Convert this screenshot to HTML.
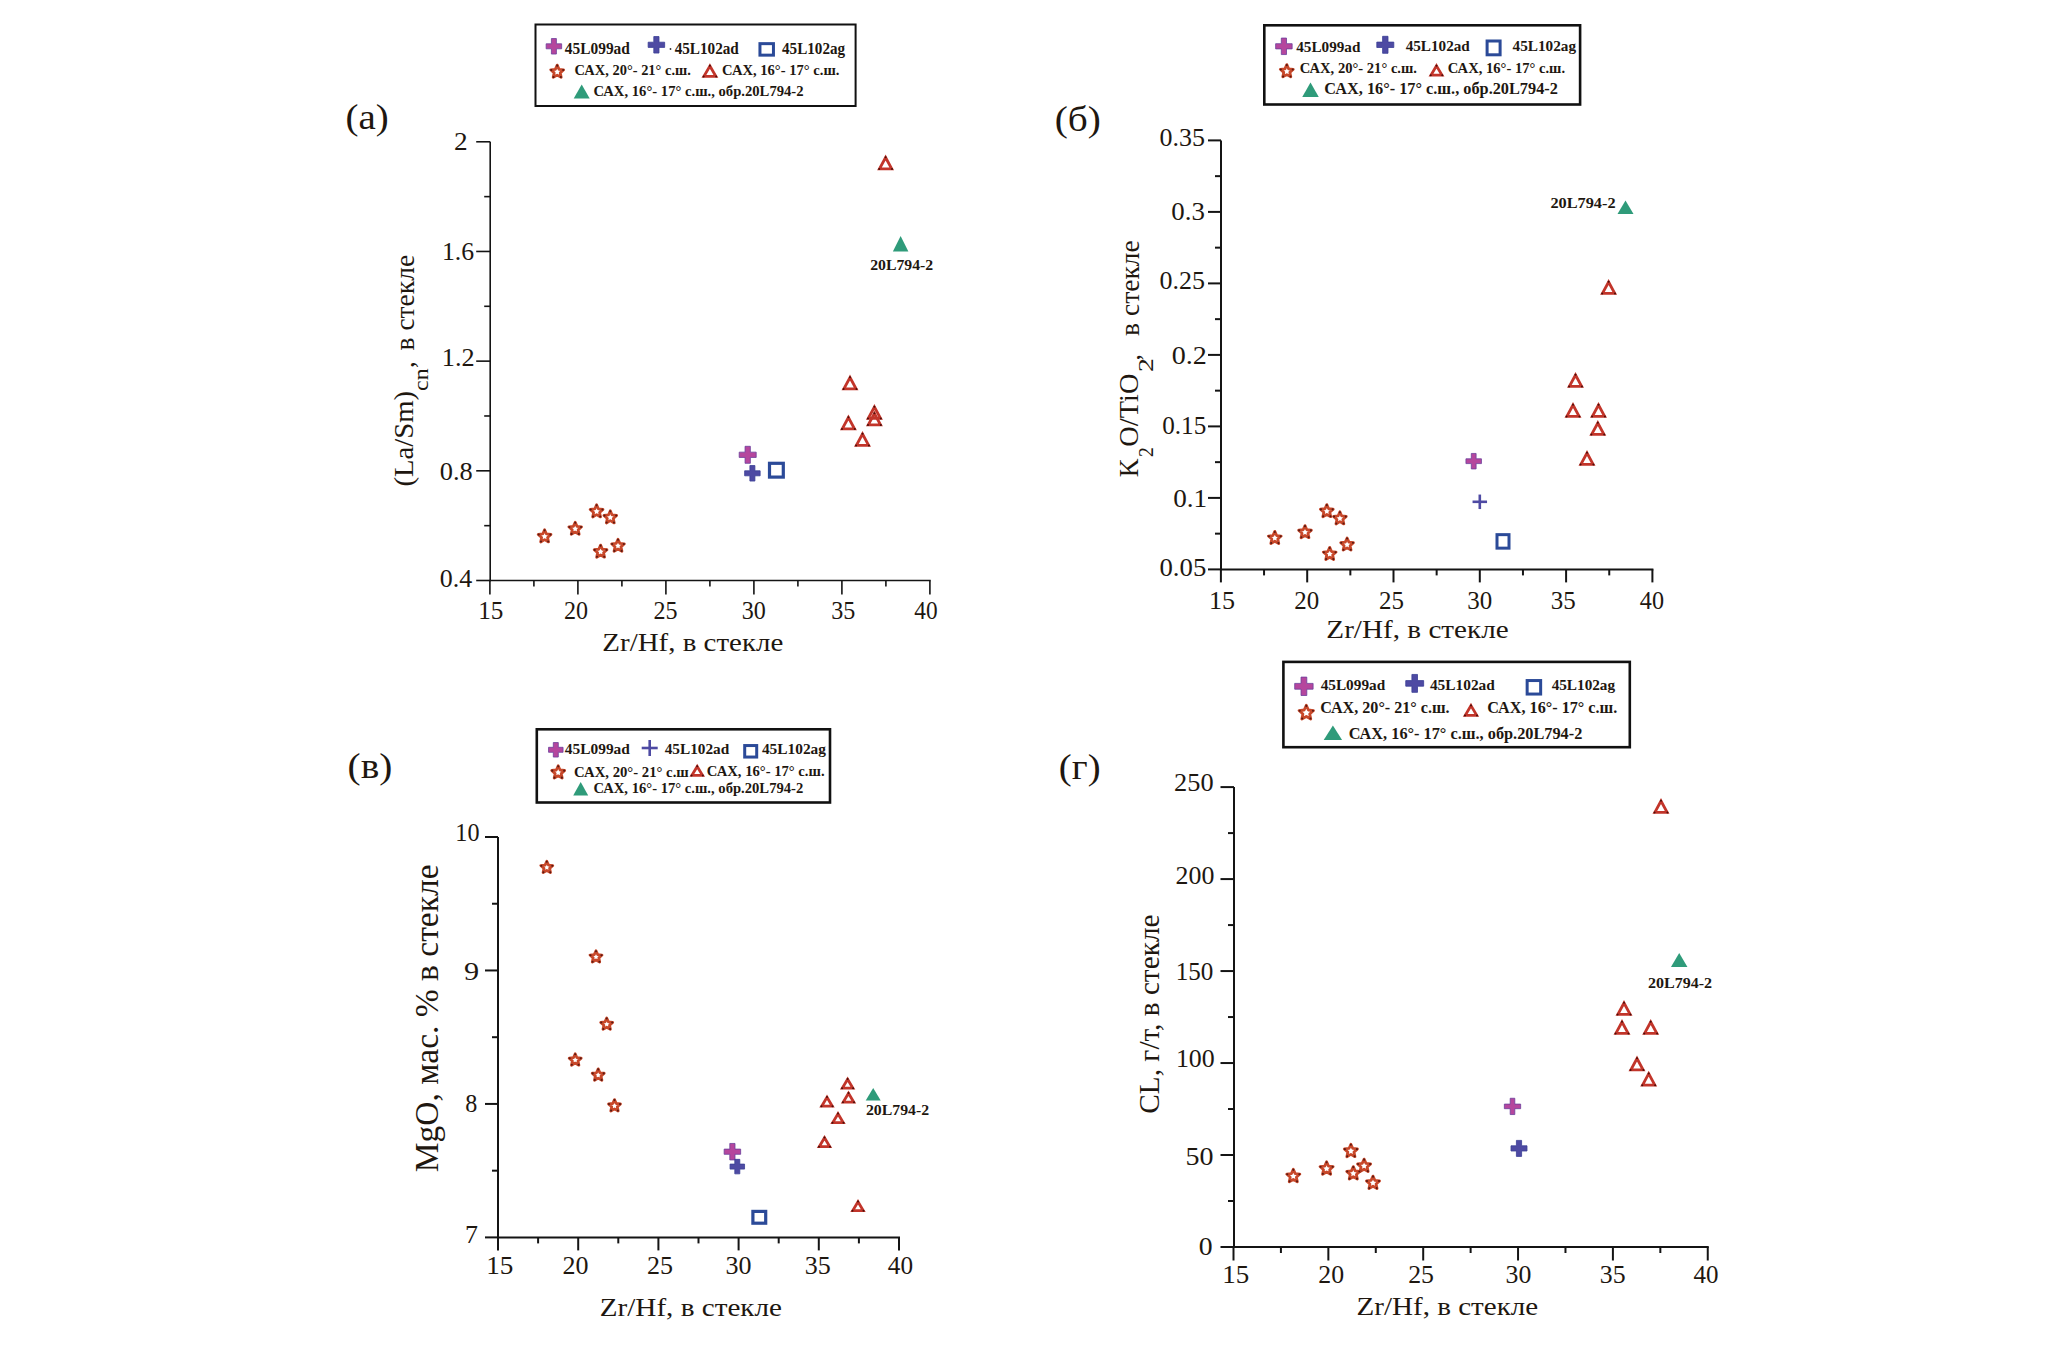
<!DOCTYPE html>
<html><head><meta charset="utf-8"><title>Zr/Hf diagrams</title>
<style>html,body{margin:0;padding:0;background:#fff;}svg{display:block;}</style></head>
<body><svg width="2067" height="1351" viewBox="0 0 2067 1351">
<rect width="2067" height="1351" fill="#fff"/>
<line x1="490.2" y1="141.78" x2="490.2" y2="581.3" stroke="#141414" stroke-width="1.6"/>
<line x1="489.4" y1="580.5" x2="930.7" y2="580.5" stroke="#141414" stroke-width="1.6"/>
<line x1="489.9" y1="580.5" x2="489.9" y2="594.5" stroke="#141414" stroke-width="1.6"/>
<line x1="577.9" y1="580.5" x2="577.9" y2="594.5" stroke="#141414" stroke-width="1.6"/>
<line x1="665.9" y1="580.5" x2="665.9" y2="594.5" stroke="#141414" stroke-width="1.6"/>
<line x1="753.9" y1="580.5" x2="753.9" y2="594.5" stroke="#141414" stroke-width="1.6"/>
<line x1="841.9" y1="580.5" x2="841.9" y2="594.5" stroke="#141414" stroke-width="1.6"/>
<line x1="929.9" y1="580.5" x2="929.9" y2="594.5" stroke="#141414" stroke-width="1.6"/>
<line x1="533.9" y1="580.5" x2="533.9" y2="586.5" stroke="#141414" stroke-width="1.6"/>
<line x1="621.9" y1="580.5" x2="621.9" y2="586.5" stroke="#141414" stroke-width="1.6"/>
<line x1="709.9" y1="580.5" x2="709.9" y2="586.5" stroke="#141414" stroke-width="1.6"/>
<line x1="797.9" y1="580.5" x2="797.9" y2="586.5" stroke="#141414" stroke-width="1.6"/>
<line x1="885.9" y1="580.5" x2="885.9" y2="586.5" stroke="#141414" stroke-width="1.6"/>
<line x1="476.2" y1="580.5" x2="490.2" y2="580.5" stroke="#141414" stroke-width="1.6"/>
<line x1="476.2" y1="470.82" x2="490.2" y2="470.82" stroke="#141414" stroke-width="1.6"/>
<line x1="476.2" y1="361.14" x2="490.2" y2="361.14" stroke="#141414" stroke-width="1.6"/>
<line x1="476.2" y1="251.46" x2="490.2" y2="251.46" stroke="#141414" stroke-width="1.6"/>
<line x1="476.2" y1="141.78" x2="490.2" y2="141.78" stroke="#141414" stroke-width="1.6"/>
<line x1="484.2" y1="525.66" x2="490.2" y2="525.66" stroke="#141414" stroke-width="1.6"/>
<line x1="484.2" y1="415.98" x2="490.2" y2="415.98" stroke="#141414" stroke-width="1.6"/>
<line x1="484.2" y1="306.3" x2="490.2" y2="306.3" stroke="#141414" stroke-width="1.6"/>
<line x1="484.2" y1="196.62" x2="490.2" y2="196.62" stroke="#141414" stroke-width="1.6"/>
<rect x="535.5" y="24.5" width="320.1" height="81.5" fill="none" stroke="#111" stroke-width="2"/>
<path d="M551.4 38.55 L556.4 38.55 L556.4 43.8 L561.65 43.8 L561.65 48.8 L556.4 48.8 L556.4 54.05 L551.4 54.05 L551.4 48.8 L546.15 48.8 L546.15 43.8 L551.4 43.8Z" fill="#b5469d" stroke="#6b3f9c" stroke-width="0.8"/>
<path d="M653.8 36.55 L659 36.55 L659 42.2 L664.65 42.2 L664.65 47.4 L659 47.4 L659 53.05 L653.8 53.05 L653.8 47.4 L648.15 47.4 L648.15 42.2 L653.8 42.2Z" fill="#4e4aa3" stroke="#3a3f95" stroke-width="0.8"/>
<rect x="759.95" y="43.65" width="13.5" height="11.5" fill="none" stroke="#2b4a98" stroke-width="3"/>
<path d="M557.2 65.1 L559.08 69.31 L563.67 69.8 L560.24 72.89 L561.2 77.4 L557.2 75.1 L553.2 77.4 L554.16 72.89 L550.73 69.8 L555.32 69.31Z" fill="none" stroke="#c8482a" stroke-width="2.8" stroke-linejoin="round"/>
<circle cx="557.2" cy="65.64" r="1.05" fill="#5a1a12"/>
<circle cx="563.15" cy="69.97" r="1.05" fill="#5a1a12"/>
<circle cx="560.88" cy="76.96" r="1.05" fill="#5a1a12"/>
<circle cx="553.52" cy="76.96" r="1.05" fill="#5a1a12"/>
<circle cx="551.25" cy="69.97" r="1.05" fill="#5a1a12"/>
<path d="M709.9 66.05 L715.88 76.35 L703.92 76.35Z" fill="none" stroke="#c2352a" stroke-width="2.8" stroke-linejoin="miter"/>
<circle cx="709.9" cy="65.85" r="1" fill="#4a0e0a"/>
<circle cx="716.18" cy="76.55" r="1" fill="#4a0e0a"/>
<circle cx="703.62" cy="76.55" r="1" fill="#4a0e0a"/>
<path d="M581.7 84.5 L589.7 98.5 L573.7 98.5Z" fill="#2f9b7a"/>
<circle cx="670.5" cy="49" r="0.9" fill="#333"/>
<path d="M544.6 529.8 L546.45 533.95 L550.97 534.43 L547.59 537.47 L548.54 541.92 L544.6 539.65 L540.66 541.92 L541.61 537.47 L538.23 534.43 L542.75 533.95Z" fill="none" stroke="#c8482a" stroke-width="2.8" stroke-linejoin="round"/>
<circle cx="544.6" cy="530.34" r="1.05" fill="#5a1a12"/>
<circle cx="550.46" cy="534.6" r="1.05" fill="#5a1a12"/>
<circle cx="548.22" cy="541.49" r="1.05" fill="#5a1a12"/>
<circle cx="540.98" cy="541.49" r="1.05" fill="#5a1a12"/>
<circle cx="538.74" cy="534.6" r="1.05" fill="#5a1a12"/>
<path d="M575.2 522.2 L577.05 526.35 L581.57 526.83 L578.19 529.87 L579.14 534.32 L575.2 532.05 L571.26 534.32 L572.21 529.87 L568.83 526.83 L573.35 526.35Z" fill="none" stroke="#c8482a" stroke-width="2.8" stroke-linejoin="round"/>
<circle cx="575.2" cy="522.74" r="1.05" fill="#5a1a12"/>
<circle cx="581.06" cy="527" r="1.05" fill="#5a1a12"/>
<circle cx="578.82" cy="533.89" r="1.05" fill="#5a1a12"/>
<circle cx="571.58" cy="533.89" r="1.05" fill="#5a1a12"/>
<circle cx="569.34" cy="527" r="1.05" fill="#5a1a12"/>
<path d="M596.6 504.8 L598.45 508.95 L602.97 509.43 L599.59 512.47 L600.54 516.92 L596.6 514.65 L592.66 516.92 L593.61 512.47 L590.23 509.43 L594.75 508.95Z" fill="none" stroke="#c8482a" stroke-width="2.8" stroke-linejoin="round"/>
<circle cx="596.6" cy="505.34" r="1.05" fill="#5a1a12"/>
<circle cx="602.46" cy="509.6" r="1.05" fill="#5a1a12"/>
<circle cx="600.22" cy="516.49" r="1.05" fill="#5a1a12"/>
<circle cx="592.98" cy="516.49" r="1.05" fill="#5a1a12"/>
<circle cx="590.74" cy="509.6" r="1.05" fill="#5a1a12"/>
<path d="M610.3 510.8 L612.15 514.95 L616.67 515.43 L613.29 518.47 L614.24 522.92 L610.3 520.65 L606.36 522.92 L607.31 518.47 L603.93 515.43 L608.45 514.95Z" fill="none" stroke="#c8482a" stroke-width="2.8" stroke-linejoin="round"/>
<circle cx="610.3" cy="511.34" r="1.05" fill="#5a1a12"/>
<circle cx="616.16" cy="515.6" r="1.05" fill="#5a1a12"/>
<circle cx="613.92" cy="522.49" r="1.05" fill="#5a1a12"/>
<circle cx="606.68" cy="522.49" r="1.05" fill="#5a1a12"/>
<circle cx="604.44" cy="515.6" r="1.05" fill="#5a1a12"/>
<path d="M600.6 545.1 L602.45 549.25 L606.97 549.73 L603.59 552.77 L604.54 557.22 L600.6 554.95 L596.66 557.22 L597.61 552.77 L594.23 549.73 L598.75 549.25Z" fill="none" stroke="#c8482a" stroke-width="2.8" stroke-linejoin="round"/>
<circle cx="600.6" cy="545.64" r="1.05" fill="#5a1a12"/>
<circle cx="606.46" cy="549.9" r="1.05" fill="#5a1a12"/>
<circle cx="604.22" cy="556.79" r="1.05" fill="#5a1a12"/>
<circle cx="596.98" cy="556.79" r="1.05" fill="#5a1a12"/>
<circle cx="594.74" cy="549.9" r="1.05" fill="#5a1a12"/>
<path d="M618 539.2 L619.85 543.35 L624.37 543.83 L620.99 546.87 L621.94 551.32 L618 549.05 L614.06 551.32 L615.01 546.87 L611.63 543.83 L616.15 543.35Z" fill="none" stroke="#c8482a" stroke-width="2.8" stroke-linejoin="round"/>
<circle cx="618" cy="539.74" r="1.05" fill="#5a1a12"/>
<circle cx="623.86" cy="544" r="1.05" fill="#5a1a12"/>
<circle cx="621.62" cy="550.89" r="1.05" fill="#5a1a12"/>
<circle cx="614.38" cy="550.89" r="1.05" fill="#5a1a12"/>
<circle cx="612.14" cy="544" r="1.05" fill="#5a1a12"/>
<path d="M745.05 446.3 L750.35 446.3 L750.35 452.15 L756.2 452.15 L756.2 457.45 L750.35 457.45 L750.35 463.3 L745.05 463.3 L745.05 457.45 L739.2 457.45 L739.2 452.15 L745.05 452.15Z" fill="#b5469d" stroke="#6b3f9c" stroke-width="0.8"/>
<path d="M749.9 465.55 L754.9 465.55 L754.9 470.8 L760.15 470.8 L760.15 475.8 L754.9 475.8 L754.9 481.05 L749.9 481.05 L749.9 475.8 L744.65 475.8 L744.65 470.8 L749.9 470.8Z" fill="#4e4aa3" stroke="#3a3f95" stroke-width="0.8"/>
<rect x="769.5" y="463.3" width="13.8" height="13.8" fill="none" stroke="#2b4a98" stroke-width="3.2"/>
<path d="M885.6 157.5 L891.73 168.9 L879.47 168.9Z" fill="none" stroke="#c2352a" stroke-width="2.8" stroke-linejoin="miter"/>
<circle cx="885.6" cy="157.3" r="1" fill="#4a0e0a"/>
<circle cx="892.03" cy="169.1" r="1" fill="#4a0e0a"/>
<circle cx="879.17" cy="169.1" r="1" fill="#4a0e0a"/>
<path d="M850 377.5 L856.13 388.9 L843.87 388.9Z" fill="none" stroke="#c2352a" stroke-width="2.8" stroke-linejoin="miter"/>
<circle cx="850" cy="377.3" r="1" fill="#4a0e0a"/>
<circle cx="856.43" cy="389.1" r="1" fill="#4a0e0a"/>
<circle cx="843.57" cy="389.1" r="1" fill="#4a0e0a"/>
<path d="M848.4 417.5 L854.53 428.9 L842.27 428.9Z" fill="none" stroke="#c2352a" stroke-width="2.8" stroke-linejoin="miter"/>
<circle cx="848.4" cy="417.3" r="1" fill="#4a0e0a"/>
<circle cx="854.83" cy="429.1" r="1" fill="#4a0e0a"/>
<circle cx="841.97" cy="429.1" r="1" fill="#4a0e0a"/>
<path d="M874.4 407 L880.53 418.4 L868.27 418.4Z" fill="none" stroke="#c2352a" stroke-width="2.8" stroke-linejoin="miter"/>
<circle cx="874.4" cy="406.8" r="1" fill="#4a0e0a"/>
<circle cx="880.83" cy="418.6" r="1" fill="#4a0e0a"/>
<circle cx="867.97" cy="418.6" r="1" fill="#4a0e0a"/>
<path d="M874.4 413.5 L880.53 424.9 L868.27 424.9Z" fill="none" stroke="#c2352a" stroke-width="2.8" stroke-linejoin="miter"/>
<circle cx="874.4" cy="413.3" r="1" fill="#4a0e0a"/>
<circle cx="880.83" cy="425.1" r="1" fill="#4a0e0a"/>
<circle cx="867.97" cy="425.1" r="1" fill="#4a0e0a"/>
<path d="M862.5 434 L868.63 445.4 L856.37 445.4Z" fill="none" stroke="#c2352a" stroke-width="2.8" stroke-linejoin="miter"/>
<circle cx="862.5" cy="433.8" r="1" fill="#4a0e0a"/>
<circle cx="868.93" cy="445.6" r="1" fill="#4a0e0a"/>
<circle cx="856.07" cy="445.6" r="1" fill="#4a0e0a"/>
<path d="M900.6 236.05 L908.35 251.55 L892.85 251.55Z" fill="#2f9b7a"/>
<line x1="1221" y1="140.4" x2="1221" y2="570.4" stroke="#141414" stroke-width="2"/>
<line x1="1220" y1="569.4" x2="1653.4" y2="569.4" stroke="#141414" stroke-width="2"/>
<line x1="1220.9" y1="569.4" x2="1220.9" y2="582.4" stroke="#141414" stroke-width="2"/>
<line x1="1307.2" y1="569.4" x2="1307.2" y2="582.4" stroke="#141414" stroke-width="2"/>
<line x1="1393.5" y1="569.4" x2="1393.5" y2="582.4" stroke="#141414" stroke-width="2"/>
<line x1="1479.8" y1="569.4" x2="1479.8" y2="582.4" stroke="#141414" stroke-width="2"/>
<line x1="1566.1" y1="569.4" x2="1566.1" y2="582.4" stroke="#141414" stroke-width="2"/>
<line x1="1652.4" y1="569.4" x2="1652.4" y2="582.4" stroke="#141414" stroke-width="2"/>
<line x1="1264.05" y1="569.4" x2="1264.05" y2="575.4" stroke="#141414" stroke-width="2"/>
<line x1="1350.35" y1="569.4" x2="1350.35" y2="575.4" stroke="#141414" stroke-width="2"/>
<line x1="1436.65" y1="569.4" x2="1436.65" y2="575.4" stroke="#141414" stroke-width="2"/>
<line x1="1522.95" y1="569.4" x2="1522.95" y2="575.4" stroke="#141414" stroke-width="2"/>
<line x1="1609.25" y1="569.4" x2="1609.25" y2="575.4" stroke="#141414" stroke-width="2"/>
<line x1="1208" y1="569.4" x2="1221" y2="569.4" stroke="#141414" stroke-width="2"/>
<line x1="1208" y1="497.9" x2="1221" y2="497.9" stroke="#141414" stroke-width="2"/>
<line x1="1208" y1="426.4" x2="1221" y2="426.4" stroke="#141414" stroke-width="2"/>
<line x1="1208" y1="354.9" x2="1221" y2="354.9" stroke="#141414" stroke-width="2"/>
<line x1="1208" y1="283.4" x2="1221" y2="283.4" stroke="#141414" stroke-width="2"/>
<line x1="1208" y1="211.9" x2="1221" y2="211.9" stroke="#141414" stroke-width="2"/>
<line x1="1208" y1="140.4" x2="1221" y2="140.4" stroke="#141414" stroke-width="2"/>
<line x1="1215" y1="533.65" x2="1221" y2="533.65" stroke="#141414" stroke-width="2"/>
<line x1="1215" y1="462.15" x2="1221" y2="462.15" stroke="#141414" stroke-width="2"/>
<line x1="1215" y1="390.65" x2="1221" y2="390.65" stroke="#141414" stroke-width="2"/>
<line x1="1215" y1="319.15" x2="1221" y2="319.15" stroke="#141414" stroke-width="2"/>
<line x1="1215" y1="247.65" x2="1221" y2="247.65" stroke="#141414" stroke-width="2"/>
<line x1="1215" y1="176.15" x2="1221" y2="176.15" stroke="#141414" stroke-width="2"/>
<rect x="1264.3" y="25.3" width="315.8" height="79.2" fill="none" stroke="#111" stroke-width="2.6"/>
<path d="M1281.3 38.05 L1286.5 38.05 L1286.5 43.7 L1292.15 43.7 L1292.15 48.9 L1286.5 48.9 L1286.5 54.55 L1281.3 54.55 L1281.3 48.9 L1275.65 48.9 L1275.65 43.7 L1281.3 43.7Z" fill="#b5469d" stroke="#6b3f9c" stroke-width="0.8"/>
<path d="M1382.6 36.3 L1388 36.3 L1388 42.1 L1393.8 42.1 L1393.8 47.5 L1388 47.5 L1388 53.3 L1382.6 53.3 L1382.6 47.5 L1376.8 47.5 L1376.8 42.1 L1382.6 42.1Z" fill="#4e4aa3" stroke="#3a3f95" stroke-width="0.8"/>
<rect x="1487.1" y="41" width="13" height="13.8" fill="none" stroke="#2b4a98" stroke-width="3"/>
<path d="M1286.8 64.6 L1288.68 68.81 L1293.27 69.3 L1289.84 72.39 L1290.8 76.9 L1286.8 74.6 L1282.8 76.9 L1283.76 72.39 L1280.33 69.3 L1284.92 68.81Z" fill="none" stroke="#c8482a" stroke-width="2.8" stroke-linejoin="round"/>
<circle cx="1286.8" cy="65.14" r="1.05" fill="#5a1a12"/>
<circle cx="1292.75" cy="69.47" r="1.05" fill="#5a1a12"/>
<circle cx="1290.48" cy="76.46" r="1.05" fill="#5a1a12"/>
<circle cx="1283.12" cy="76.46" r="1.05" fill="#5a1a12"/>
<circle cx="1280.85" cy="69.47" r="1.05" fill="#5a1a12"/>
<path d="M1436.5 65.85 L1441.98 75.15 L1431.02 75.15Z" fill="none" stroke="#c2352a" stroke-width="2.8" stroke-linejoin="miter"/>
<circle cx="1436.5" cy="65.65" r="1" fill="#4a0e0a"/>
<circle cx="1442.28" cy="75.35" r="1" fill="#4a0e0a"/>
<circle cx="1430.72" cy="75.35" r="1" fill="#4a0e0a"/>
<path d="M1310.5 82.55 L1318.75 97.05 L1302.25 97.05Z" fill="#2f9b7a"/>
<path d="M1274.8 531.4 L1276.65 535.55 L1281.17 536.03 L1277.79 539.07 L1278.74 543.52 L1274.8 541.25 L1270.86 543.52 L1271.81 539.07 L1268.43 536.03 L1272.95 535.55Z" fill="none" stroke="#c8482a" stroke-width="2.8" stroke-linejoin="round"/>
<circle cx="1274.8" cy="531.94" r="1.05" fill="#5a1a12"/>
<circle cx="1280.66" cy="536.2" r="1.05" fill="#5a1a12"/>
<circle cx="1278.42" cy="543.09" r="1.05" fill="#5a1a12"/>
<circle cx="1271.18" cy="543.09" r="1.05" fill="#5a1a12"/>
<circle cx="1268.94" cy="536.2" r="1.05" fill="#5a1a12"/>
<path d="M1305 525.6 L1306.85 529.75 L1311.37 530.23 L1307.99 533.27 L1308.94 537.72 L1305 535.45 L1301.06 537.72 L1302.01 533.27 L1298.63 530.23 L1303.15 529.75Z" fill="none" stroke="#c8482a" stroke-width="2.8" stroke-linejoin="round"/>
<circle cx="1305" cy="526.14" r="1.05" fill="#5a1a12"/>
<circle cx="1310.86" cy="530.4" r="1.05" fill="#5a1a12"/>
<circle cx="1308.62" cy="537.29" r="1.05" fill="#5a1a12"/>
<circle cx="1301.38" cy="537.29" r="1.05" fill="#5a1a12"/>
<circle cx="1299.14" cy="530.4" r="1.05" fill="#5a1a12"/>
<path d="M1326.8 504.6 L1328.65 508.75 L1333.17 509.23 L1329.79 512.27 L1330.74 516.72 L1326.8 514.45 L1322.86 516.72 L1323.81 512.27 L1320.43 509.23 L1324.95 508.75Z" fill="none" stroke="#c8482a" stroke-width="2.8" stroke-linejoin="round"/>
<circle cx="1326.8" cy="505.14" r="1.05" fill="#5a1a12"/>
<circle cx="1332.66" cy="509.4" r="1.05" fill="#5a1a12"/>
<circle cx="1330.42" cy="516.29" r="1.05" fill="#5a1a12"/>
<circle cx="1323.18" cy="516.29" r="1.05" fill="#5a1a12"/>
<circle cx="1320.94" cy="509.4" r="1.05" fill="#5a1a12"/>
<path d="M1339.9 511.8 L1341.75 515.95 L1346.27 516.43 L1342.89 519.47 L1343.84 523.92 L1339.9 521.65 L1335.96 523.92 L1336.91 519.47 L1333.53 516.43 L1338.05 515.95Z" fill="none" stroke="#c8482a" stroke-width="2.8" stroke-linejoin="round"/>
<circle cx="1339.9" cy="512.34" r="1.05" fill="#5a1a12"/>
<circle cx="1345.76" cy="516.6" r="1.05" fill="#5a1a12"/>
<circle cx="1343.52" cy="523.49" r="1.05" fill="#5a1a12"/>
<circle cx="1336.28" cy="523.49" r="1.05" fill="#5a1a12"/>
<circle cx="1334.04" cy="516.6" r="1.05" fill="#5a1a12"/>
<path d="M1329.7 547.4 L1331.55 551.55 L1336.07 552.03 L1332.69 555.07 L1333.64 559.52 L1329.7 557.25 L1325.76 559.52 L1326.71 555.07 L1323.33 552.03 L1327.85 551.55Z" fill="none" stroke="#c8482a" stroke-width="2.8" stroke-linejoin="round"/>
<circle cx="1329.7" cy="547.94" r="1.05" fill="#5a1a12"/>
<circle cx="1335.56" cy="552.2" r="1.05" fill="#5a1a12"/>
<circle cx="1333.32" cy="559.09" r="1.05" fill="#5a1a12"/>
<circle cx="1326.08" cy="559.09" r="1.05" fill="#5a1a12"/>
<circle cx="1323.84" cy="552.2" r="1.05" fill="#5a1a12"/>
<path d="M1347.1 538 L1348.95 542.15 L1353.47 542.63 L1350.09 545.67 L1351.04 550.12 L1347.1 547.85 L1343.16 550.12 L1344.11 545.67 L1340.73 542.63 L1345.25 542.15Z" fill="none" stroke="#c8482a" stroke-width="2.8" stroke-linejoin="round"/>
<circle cx="1347.1" cy="538.54" r="1.05" fill="#5a1a12"/>
<circle cx="1352.96" cy="542.8" r="1.05" fill="#5a1a12"/>
<circle cx="1350.72" cy="549.69" r="1.05" fill="#5a1a12"/>
<circle cx="1343.48" cy="549.69" r="1.05" fill="#5a1a12"/>
<circle cx="1341.24" cy="542.8" r="1.05" fill="#5a1a12"/>
<path d="M1471.3 453.45 L1476.1 453.45 L1476.1 458.8 L1481.45 458.8 L1481.45 463.6 L1476.1 463.6 L1476.1 468.95 L1471.3 468.95 L1471.3 463.6 L1465.95 463.6 L1465.95 458.8 L1471.3 458.8Z" fill="#b5469d" stroke="#6b3f9c" stroke-width="0.8"/>
<line x1="1472.55" y1="501.8" x2="1487.05" y2="501.8" stroke="#4e4aa3" stroke-width="2.6"/>
<line x1="1479.8" y1="494.55" x2="1479.8" y2="509.05" stroke="#4e4aa3" stroke-width="2.6"/>
<rect x="1497" y="534.65" width="12" height="13.5" fill="none" stroke="#2b4a98" stroke-width="3"/>
<path d="M1608.6 282 L1614.73 293.4 L1602.47 293.4Z" fill="none" stroke="#c2352a" stroke-width="2.8" stroke-linejoin="miter"/>
<circle cx="1608.6" cy="281.8" r="1" fill="#4a0e0a"/>
<circle cx="1615.03" cy="293.6" r="1" fill="#4a0e0a"/>
<circle cx="1602.17" cy="293.6" r="1" fill="#4a0e0a"/>
<path d="M1575.5 375 L1581.63 386.4 L1569.37 386.4Z" fill="none" stroke="#c2352a" stroke-width="2.8" stroke-linejoin="miter"/>
<circle cx="1575.5" cy="374.8" r="1" fill="#4a0e0a"/>
<circle cx="1581.93" cy="386.6" r="1" fill="#4a0e0a"/>
<circle cx="1569.07" cy="386.6" r="1" fill="#4a0e0a"/>
<path d="M1573 405 L1579.13 416.4 L1566.87 416.4Z" fill="none" stroke="#c2352a" stroke-width="2.8" stroke-linejoin="miter"/>
<circle cx="1573" cy="404.8" r="1" fill="#4a0e0a"/>
<circle cx="1579.43" cy="416.6" r="1" fill="#4a0e0a"/>
<circle cx="1566.57" cy="416.6" r="1" fill="#4a0e0a"/>
<path d="M1598.5 405 L1604.63 416.4 L1592.37 416.4Z" fill="none" stroke="#c2352a" stroke-width="2.8" stroke-linejoin="miter"/>
<circle cx="1598.5" cy="404.8" r="1" fill="#4a0e0a"/>
<circle cx="1604.93" cy="416.6" r="1" fill="#4a0e0a"/>
<circle cx="1592.07" cy="416.6" r="1" fill="#4a0e0a"/>
<path d="M1597.8 423 L1603.93 434.4 L1591.67 434.4Z" fill="none" stroke="#c2352a" stroke-width="2.8" stroke-linejoin="miter"/>
<circle cx="1597.8" cy="422.8" r="1" fill="#4a0e0a"/>
<circle cx="1604.23" cy="434.6" r="1" fill="#4a0e0a"/>
<circle cx="1591.37" cy="434.6" r="1" fill="#4a0e0a"/>
<path d="M1587 453 L1593.13 464.4 L1580.87 464.4Z" fill="none" stroke="#c2352a" stroke-width="2.8" stroke-linejoin="miter"/>
<circle cx="1587" cy="452.8" r="1" fill="#4a0e0a"/>
<circle cx="1593.43" cy="464.6" r="1" fill="#4a0e0a"/>
<circle cx="1580.57" cy="464.6" r="1" fill="#4a0e0a"/>
<path d="M1625.5 200.45 L1633.5 213.95 L1617.5 213.95Z" fill="#2f9b7a"/>
<line x1="498" y1="836.99" x2="498" y2="1238.4" stroke="#141414" stroke-width="2"/>
<line x1="497" y1="1237.4" x2="900" y2="1237.4" stroke="#141414" stroke-width="2"/>
<line x1="498" y1="1237.4" x2="498" y2="1250.4" stroke="#141414" stroke-width="2"/>
<line x1="578.2" y1="1237.4" x2="578.2" y2="1250.4" stroke="#141414" stroke-width="2"/>
<line x1="658.4" y1="1237.4" x2="658.4" y2="1250.4" stroke="#141414" stroke-width="2"/>
<line x1="738.6" y1="1237.4" x2="738.6" y2="1250.4" stroke="#141414" stroke-width="2"/>
<line x1="818.8" y1="1237.4" x2="818.8" y2="1250.4" stroke="#141414" stroke-width="2"/>
<line x1="899" y1="1237.4" x2="899" y2="1250.4" stroke="#141414" stroke-width="2"/>
<line x1="538.1" y1="1237.4" x2="538.1" y2="1243.4" stroke="#141414" stroke-width="2"/>
<line x1="618.3" y1="1237.4" x2="618.3" y2="1243.4" stroke="#141414" stroke-width="2"/>
<line x1="698.5" y1="1237.4" x2="698.5" y2="1243.4" stroke="#141414" stroke-width="2"/>
<line x1="778.7" y1="1237.4" x2="778.7" y2="1243.4" stroke="#141414" stroke-width="2"/>
<line x1="858.9" y1="1237.4" x2="858.9" y2="1243.4" stroke="#141414" stroke-width="2"/>
<line x1="485" y1="1237.4" x2="498" y2="1237.4" stroke="#141414" stroke-width="2"/>
<line x1="485" y1="1103.93" x2="498" y2="1103.93" stroke="#141414" stroke-width="2"/>
<line x1="485" y1="970.46" x2="498" y2="970.46" stroke="#141414" stroke-width="2"/>
<line x1="485" y1="836.99" x2="498" y2="836.99" stroke="#141414" stroke-width="2"/>
<line x1="492" y1="1170.67" x2="498" y2="1170.67" stroke="#141414" stroke-width="2"/>
<line x1="492" y1="1037.2" x2="498" y2="1037.2" stroke="#141414" stroke-width="2"/>
<line x1="492" y1="903.73" x2="498" y2="903.73" stroke="#141414" stroke-width="2"/>
<rect x="536.8" y="729.3" width="293.2" height="73.2" fill="none" stroke="#111" stroke-width="2.6"/>
<path d="M553.3 742.55 L558.3 742.55 L558.3 747.3 L563.05 747.3 L563.05 752.3 L558.3 752.3 L558.3 757.05 L553.3 757.05 L553.3 752.3 L548.55 752.3 L548.55 747.3 L553.3 747.3Z" fill="#b5469d" stroke="#6b3f9c" stroke-width="0.8"/>
<line x1="641.7" y1="748" x2="657.7" y2="748" stroke="#4e4aa3" stroke-width="2.6"/>
<line x1="649.7" y1="740" x2="649.7" y2="756" stroke="#4e4aa3" stroke-width="2.6"/>
<rect x="744.7" y="745.55" width="12" height="11.5" fill="none" stroke="#2b4a98" stroke-width="3"/>
<path d="M558.2 765.8 L560.08 770.01 L564.67 770.5 L561.24 773.59 L562.2 778.1 L558.2 775.8 L554.2 778.1 L555.16 773.59 L551.73 770.5 L556.32 770.01Z" fill="none" stroke="#c8482a" stroke-width="2.8" stroke-linejoin="round"/>
<circle cx="558.2" cy="766.34" r="1.05" fill="#5a1a12"/>
<circle cx="564.15" cy="770.67" r="1.05" fill="#5a1a12"/>
<circle cx="561.88" cy="777.66" r="1.05" fill="#5a1a12"/>
<circle cx="554.52" cy="777.66" r="1.05" fill="#5a1a12"/>
<circle cx="552.25" cy="770.67" r="1.05" fill="#5a1a12"/>
<path d="M697.2 766.5 L702.53 775.3 L691.87 775.3Z" fill="none" stroke="#c2352a" stroke-width="2.8" stroke-linejoin="miter"/>
<circle cx="697.2" cy="766.3" r="1" fill="#4a0e0a"/>
<circle cx="702.83" cy="775.5" r="1" fill="#4a0e0a"/>
<circle cx="691.57" cy="775.5" r="1" fill="#4a0e0a"/>
<path d="M580.7 782.05 L588.2 795.55 L573.2 795.55Z" fill="#2f9b7a"/>
<path d="M546.8 861.2 L548.54 865.1 L552.79 865.55 L549.62 868.41 L550.5 872.6 L546.8 870.46 L543.1 872.6 L543.98 868.41 L540.81 865.55 L545.06 865.1Z" fill="none" stroke="#c8482a" stroke-width="2.8" stroke-linejoin="round"/>
<circle cx="546.8" cy="861.7" r="1.05" fill="#5a1a12"/>
<circle cx="552.31" cy="865.71" r="1.05" fill="#5a1a12"/>
<circle cx="550.21" cy="872.19" r="1.05" fill="#5a1a12"/>
<circle cx="543.39" cy="872.19" r="1.05" fill="#5a1a12"/>
<circle cx="541.29" cy="865.71" r="1.05" fill="#5a1a12"/>
<path d="M596 950.7 L597.74 954.6 L601.99 955.05 L598.82 957.91 L599.7 962.1 L596 959.96 L592.3 962.1 L593.18 957.91 L590.01 955.05 L594.26 954.6Z" fill="none" stroke="#c8482a" stroke-width="2.8" stroke-linejoin="round"/>
<circle cx="596" cy="951.2" r="1.05" fill="#5a1a12"/>
<circle cx="601.51" cy="955.21" r="1.05" fill="#5a1a12"/>
<circle cx="599.41" cy="961.69" r="1.05" fill="#5a1a12"/>
<circle cx="592.59" cy="961.69" r="1.05" fill="#5a1a12"/>
<circle cx="590.49" cy="955.21" r="1.05" fill="#5a1a12"/>
<path d="M606.7 1018 L608.44 1021.9 L612.69 1022.35 L609.52 1025.21 L610.4 1029.4 L606.7 1027.26 L603 1029.4 L603.88 1025.21 L600.71 1022.35 L604.96 1021.9Z" fill="none" stroke="#c8482a" stroke-width="2.8" stroke-linejoin="round"/>
<circle cx="606.7" cy="1018.5" r="1.05" fill="#5a1a12"/>
<circle cx="612.21" cy="1022.51" r="1.05" fill="#5a1a12"/>
<circle cx="610.11" cy="1028.99" r="1.05" fill="#5a1a12"/>
<circle cx="603.29" cy="1028.99" r="1.05" fill="#5a1a12"/>
<circle cx="601.19" cy="1022.51" r="1.05" fill="#5a1a12"/>
<path d="M575.2 1053.8 L576.94 1057.7 L581.19 1058.15 L578.02 1061.01 L578.9 1065.2 L575.2 1063.06 L571.5 1065.2 L572.38 1061.01 L569.21 1058.15 L573.46 1057.7Z" fill="none" stroke="#c8482a" stroke-width="2.8" stroke-linejoin="round"/>
<circle cx="575.2" cy="1054.3" r="1.05" fill="#5a1a12"/>
<circle cx="580.71" cy="1058.31" r="1.05" fill="#5a1a12"/>
<circle cx="578.61" cy="1064.79" r="1.05" fill="#5a1a12"/>
<circle cx="571.79" cy="1064.79" r="1.05" fill="#5a1a12"/>
<circle cx="569.69" cy="1058.31" r="1.05" fill="#5a1a12"/>
<path d="M598.2 1068.9 L599.94 1072.8 L604.19 1073.25 L601.02 1076.11 L601.9 1080.3 L598.2 1078.16 L594.5 1080.3 L595.38 1076.11 L592.21 1073.25 L596.46 1072.8Z" fill="none" stroke="#c8482a" stroke-width="2.8" stroke-linejoin="round"/>
<circle cx="598.2" cy="1069.4" r="1.05" fill="#5a1a12"/>
<circle cx="603.71" cy="1073.41" r="1.05" fill="#5a1a12"/>
<circle cx="601.61" cy="1079.89" r="1.05" fill="#5a1a12"/>
<circle cx="594.79" cy="1079.89" r="1.05" fill="#5a1a12"/>
<circle cx="592.69" cy="1073.41" r="1.05" fill="#5a1a12"/>
<path d="M614.5 1099.6 L616.24 1103.5 L620.49 1103.95 L617.32 1106.81 L618.2 1111 L614.5 1108.86 L610.8 1111 L611.68 1106.81 L608.51 1103.95 L612.76 1103.5Z" fill="none" stroke="#c8482a" stroke-width="2.8" stroke-linejoin="round"/>
<circle cx="614.5" cy="1100.1" r="1.05" fill="#5a1a12"/>
<circle cx="620.01" cy="1104.11" r="1.05" fill="#5a1a12"/>
<circle cx="617.91" cy="1110.59" r="1.05" fill="#5a1a12"/>
<circle cx="611.09" cy="1110.59" r="1.05" fill="#5a1a12"/>
<circle cx="608.99" cy="1104.11" r="1.05" fill="#5a1a12"/>
<path d="M729.8 1143.45 L735 1143.45 L735 1149.1 L740.65 1149.1 L740.65 1154.3 L735 1154.3 L735 1159.95 L729.8 1159.95 L729.8 1154.3 L724.15 1154.3 L724.15 1149.1 L729.8 1149.1Z" fill="#b5469d" stroke="#6b3f9c" stroke-width="0.8"/>
<path d="M734.8 1159.35 L739.8 1159.35 L739.8 1164.1 L744.55 1164.1 L744.55 1169.1 L739.8 1169.1 L739.8 1173.85 L734.8 1173.85 L734.8 1169.1 L730.05 1169.1 L730.05 1164.1 L734.8 1164.1Z" fill="#4e4aa3" stroke="#3a3f95" stroke-width="0.8"/>
<rect x="752.9" y="1211.4" width="12.8" height="11.8" fill="none" stroke="#2b4a98" stroke-width="3.2"/>
<path d="M847.6 1079.3 L852.83 1088.1 L842.37 1088.1Z" fill="none" stroke="#c2352a" stroke-width="2.8" stroke-linejoin="miter"/>
<circle cx="847.6" cy="1079.1" r="1" fill="#4a0e0a"/>
<circle cx="853.13" cy="1088.3" r="1" fill="#4a0e0a"/>
<circle cx="842.07" cy="1088.3" r="1" fill="#4a0e0a"/>
<path d="M848.5 1093.3 L853.73 1102.1 L843.27 1102.1Z" fill="none" stroke="#c2352a" stroke-width="2.8" stroke-linejoin="miter"/>
<circle cx="848.5" cy="1093.1" r="1" fill="#4a0e0a"/>
<circle cx="854.03" cy="1102.3" r="1" fill="#4a0e0a"/>
<circle cx="842.97" cy="1102.3" r="1" fill="#4a0e0a"/>
<path d="M827 1097.3 L832.23 1106.1 L821.77 1106.1Z" fill="none" stroke="#c2352a" stroke-width="2.8" stroke-linejoin="miter"/>
<circle cx="827" cy="1097.1" r="1" fill="#4a0e0a"/>
<circle cx="832.53" cy="1106.3" r="1" fill="#4a0e0a"/>
<circle cx="821.47" cy="1106.3" r="1" fill="#4a0e0a"/>
<path d="M838 1113.8 L843.23 1122.6 L832.77 1122.6Z" fill="none" stroke="#c2352a" stroke-width="2.8" stroke-linejoin="miter"/>
<circle cx="838" cy="1113.6" r="1" fill="#4a0e0a"/>
<circle cx="843.53" cy="1122.8" r="1" fill="#4a0e0a"/>
<circle cx="832.47" cy="1122.8" r="1" fill="#4a0e0a"/>
<path d="M824.5 1137.8 L829.73 1146.6 L819.27 1146.6Z" fill="none" stroke="#c2352a" stroke-width="2.8" stroke-linejoin="miter"/>
<circle cx="824.5" cy="1137.6" r="1" fill="#4a0e0a"/>
<circle cx="830.03" cy="1146.8" r="1" fill="#4a0e0a"/>
<circle cx="818.97" cy="1146.8" r="1" fill="#4a0e0a"/>
<path d="M858 1201.8 L863.23 1210.6 L852.77 1210.6Z" fill="none" stroke="#c2352a" stroke-width="2.8" stroke-linejoin="miter"/>
<circle cx="858" cy="1201.6" r="1" fill="#4a0e0a"/>
<circle cx="863.53" cy="1210.8" r="1" fill="#4a0e0a"/>
<circle cx="852.47" cy="1210.8" r="1" fill="#4a0e0a"/>
<path d="M873.2 1087.95 L880.7 1100.45 L865.7 1100.45Z" fill="#2f9b7a"/>
<line x1="1234" y1="787.1" x2="1234" y2="1248" stroke="#141414" stroke-width="2"/>
<line x1="1233" y1="1247" x2="1708.75" y2="1247" stroke="#141414" stroke-width="2"/>
<line x1="1233.5" y1="1247" x2="1233.5" y2="1260.5" stroke="#141414" stroke-width="2"/>
<line x1="1328.35" y1="1247" x2="1328.35" y2="1260.5" stroke="#141414" stroke-width="2"/>
<line x1="1423.2" y1="1247" x2="1423.2" y2="1260.5" stroke="#141414" stroke-width="2"/>
<line x1="1518.05" y1="1247" x2="1518.05" y2="1260.5" stroke="#141414" stroke-width="2"/>
<line x1="1612.9" y1="1247" x2="1612.9" y2="1260.5" stroke="#141414" stroke-width="2"/>
<line x1="1707.75" y1="1247" x2="1707.75" y2="1260.5" stroke="#141414" stroke-width="2"/>
<line x1="1280.92" y1="1247" x2="1280.92" y2="1253" stroke="#141414" stroke-width="2"/>
<line x1="1375.78" y1="1247" x2="1375.78" y2="1253" stroke="#141414" stroke-width="2"/>
<line x1="1470.62" y1="1247" x2="1470.62" y2="1253" stroke="#141414" stroke-width="2"/>
<line x1="1565.47" y1="1247" x2="1565.47" y2="1253" stroke="#141414" stroke-width="2"/>
<line x1="1660.33" y1="1247" x2="1660.33" y2="1253" stroke="#141414" stroke-width="2"/>
<line x1="1220.5" y1="1247" x2="1234" y2="1247" stroke="#141414" stroke-width="2"/>
<line x1="1220.5" y1="1155.02" x2="1234" y2="1155.02" stroke="#141414" stroke-width="2"/>
<line x1="1220.5" y1="1063.04" x2="1234" y2="1063.04" stroke="#141414" stroke-width="2"/>
<line x1="1220.5" y1="971.06" x2="1234" y2="971.06" stroke="#141414" stroke-width="2"/>
<line x1="1220.5" y1="879.08" x2="1234" y2="879.08" stroke="#141414" stroke-width="2"/>
<line x1="1220.5" y1="787.1" x2="1234" y2="787.1" stroke="#141414" stroke-width="2"/>
<line x1="1228" y1="1201.01" x2="1234" y2="1201.01" stroke="#141414" stroke-width="2"/>
<line x1="1228" y1="1109.03" x2="1234" y2="1109.03" stroke="#141414" stroke-width="2"/>
<line x1="1228" y1="1017.05" x2="1234" y2="1017.05" stroke="#141414" stroke-width="2"/>
<line x1="1228" y1="925.07" x2="1234" y2="925.07" stroke="#141414" stroke-width="2"/>
<line x1="1228" y1="833.09" x2="1234" y2="833.09" stroke="#141414" stroke-width="2"/>
<rect x="1283.4" y="661.9" width="346.4" height="85.3" fill="none" stroke="#111" stroke-width="2.6"/>
<path d="M1301 677.1 L1306.8 677.1 L1306.8 683.4 L1313.1 683.4 L1313.1 689.2 L1306.8 689.2 L1306.8 695.5 L1301 695.5 L1301 689.2 L1294.7 689.2 L1294.7 683.4 L1301 683.4Z" fill="#b5469d" stroke="#6b3f9c" stroke-width="0.8"/>
<path d="M1411.9 674.45 L1417.5 674.45 L1417.5 680.6 L1423.65 680.6 L1423.65 686.2 L1417.5 686.2 L1417.5 692.35 L1411.9 692.35 L1411.9 686.2 L1405.75 686.2 L1405.75 680.6 L1411.9 680.6Z" fill="#4e4aa3" stroke="#3a3f95" stroke-width="0.8"/>
<rect x="1527.15" y="680.55" width="13.5" height="13.5" fill="none" stroke="#2b4a98" stroke-width="3"/>
<path d="M1306.3 705.3 L1308.4 710.01 L1313.53 710.55 L1309.7 714 L1310.77 719.05 L1306.3 716.47 L1301.83 719.05 L1302.9 714 L1299.07 710.55 L1304.2 710.01Z" fill="none" stroke="#c8482a" stroke-width="2.8" stroke-linejoin="round"/>
<circle cx="1306.3" cy="705.91" r="1.05" fill="#5a1a12"/>
<circle cx="1312.95" cy="710.74" r="1.05" fill="#5a1a12"/>
<circle cx="1310.41" cy="718.56" r="1.05" fill="#5a1a12"/>
<circle cx="1302.19" cy="718.56" r="1.05" fill="#5a1a12"/>
<circle cx="1299.65" cy="710.74" r="1.05" fill="#5a1a12"/>
<path d="M1471 705.6 L1476.73 715.4 L1465.27 715.4Z" fill="none" stroke="#c2352a" stroke-width="2.8" stroke-linejoin="miter"/>
<circle cx="1471" cy="705.4" r="1" fill="#4a0e0a"/>
<circle cx="1477.03" cy="715.6" r="1" fill="#4a0e0a"/>
<circle cx="1464.97" cy="715.6" r="1" fill="#4a0e0a"/>
<path d="M1332.9 725.55 L1342.1 740.05 L1323.7 740.05Z" fill="#2f9b7a"/>
<path d="M1293.3 1169.3 L1295.21 1173.58 L1299.86 1174.07 L1296.38 1177.2 L1297.36 1181.78 L1293.3 1179.44 L1289.24 1181.78 L1290.22 1177.2 L1286.74 1174.07 L1291.39 1173.58Z" fill="none" stroke="#c8482a" stroke-width="2.8" stroke-linejoin="round"/>
<circle cx="1293.3" cy="1169.85" r="1.05" fill="#5a1a12"/>
<circle cx="1299.34" cy="1174.24" r="1.05" fill="#5a1a12"/>
<circle cx="1297.03" cy="1181.34" r="1.05" fill="#5a1a12"/>
<circle cx="1289.57" cy="1181.34" r="1.05" fill="#5a1a12"/>
<circle cx="1287.26" cy="1174.24" r="1.05" fill="#5a1a12"/>
<path d="M1326.6 1161.8 L1328.51 1166.08 L1333.16 1166.57 L1329.68 1169.7 L1330.66 1174.28 L1326.6 1171.94 L1322.54 1174.28 L1323.52 1169.7 L1320.04 1166.57 L1324.69 1166.08Z" fill="none" stroke="#c8482a" stroke-width="2.8" stroke-linejoin="round"/>
<circle cx="1326.6" cy="1162.35" r="1.05" fill="#5a1a12"/>
<circle cx="1332.64" cy="1166.74" r="1.05" fill="#5a1a12"/>
<circle cx="1330.33" cy="1173.84" r="1.05" fill="#5a1a12"/>
<circle cx="1322.87" cy="1173.84" r="1.05" fill="#5a1a12"/>
<circle cx="1320.56" cy="1166.74" r="1.05" fill="#5a1a12"/>
<path d="M1350.9 1144.2 L1352.81 1148.48 L1357.46 1148.97 L1353.98 1152.1 L1354.96 1156.68 L1350.9 1154.34 L1346.84 1156.68 L1347.82 1152.1 L1344.34 1148.97 L1348.99 1148.48Z" fill="none" stroke="#c8482a" stroke-width="2.8" stroke-linejoin="round"/>
<circle cx="1350.9" cy="1144.75" r="1.05" fill="#5a1a12"/>
<circle cx="1356.94" cy="1149.14" r="1.05" fill="#5a1a12"/>
<circle cx="1354.63" cy="1156.24" r="1.05" fill="#5a1a12"/>
<circle cx="1347.17" cy="1156.24" r="1.05" fill="#5a1a12"/>
<circle cx="1344.86" cy="1149.14" r="1.05" fill="#5a1a12"/>
<path d="M1364.1 1159.1 L1366.01 1163.38 L1370.66 1163.87 L1367.18 1167 L1368.16 1171.58 L1364.1 1169.24 L1360.04 1171.58 L1361.02 1167 L1357.54 1163.87 L1362.19 1163.38Z" fill="none" stroke="#c8482a" stroke-width="2.8" stroke-linejoin="round"/>
<circle cx="1364.1" cy="1159.65" r="1.05" fill="#5a1a12"/>
<circle cx="1370.14" cy="1164.04" r="1.05" fill="#5a1a12"/>
<circle cx="1367.83" cy="1171.14" r="1.05" fill="#5a1a12"/>
<circle cx="1360.37" cy="1171.14" r="1.05" fill="#5a1a12"/>
<circle cx="1358.06" cy="1164.04" r="1.05" fill="#5a1a12"/>
<path d="M1353.3 1166.6 L1355.21 1170.88 L1359.86 1171.37 L1356.38 1174.5 L1357.36 1179.08 L1353.3 1176.74 L1349.24 1179.08 L1350.22 1174.5 L1346.74 1171.37 L1351.39 1170.88Z" fill="none" stroke="#c8482a" stroke-width="2.8" stroke-linejoin="round"/>
<circle cx="1353.3" cy="1167.15" r="1.05" fill="#5a1a12"/>
<circle cx="1359.34" cy="1171.54" r="1.05" fill="#5a1a12"/>
<circle cx="1357.03" cy="1178.64" r="1.05" fill="#5a1a12"/>
<circle cx="1349.57" cy="1178.64" r="1.05" fill="#5a1a12"/>
<circle cx="1347.26" cy="1171.54" r="1.05" fill="#5a1a12"/>
<path d="M1373 1176.1 L1374.91 1180.38 L1379.56 1180.87 L1376.08 1184 L1377.06 1188.58 L1373 1186.24 L1368.94 1188.58 L1369.92 1184 L1366.44 1180.87 L1371.09 1180.38Z" fill="none" stroke="#c8482a" stroke-width="2.8" stroke-linejoin="round"/>
<circle cx="1373" cy="1176.65" r="1.05" fill="#5a1a12"/>
<circle cx="1379.04" cy="1181.04" r="1.05" fill="#5a1a12"/>
<circle cx="1376.73" cy="1188.14" r="1.05" fill="#5a1a12"/>
<circle cx="1369.27" cy="1188.14" r="1.05" fill="#5a1a12"/>
<circle cx="1366.96" cy="1181.04" r="1.05" fill="#5a1a12"/>
<path d="M1510.2 1098.25 L1514.8 1098.25 L1514.8 1104.1 L1520.65 1104.1 L1520.65 1108.7 L1514.8 1108.7 L1514.8 1114.55 L1510.2 1114.55 L1510.2 1108.7 L1504.35 1108.7 L1504.35 1104.1 L1510.2 1104.1Z" fill="#b5469d" stroke="#6b3f9c" stroke-width="0.8"/>
<path d="M1516.4 1140.4 L1521.6 1140.4 L1521.6 1145.8 L1527 1145.8 L1527 1151 L1521.6 1151 L1521.6 1156.4 L1516.4 1156.4 L1516.4 1151 L1511 1151 L1511 1145.8 L1516.4 1145.8Z" fill="#4e4aa3" stroke="#3a3f95" stroke-width="0.8"/>
<path d="M1661 801 L1667.13 812.4 L1654.87 812.4Z" fill="none" stroke="#c2352a" stroke-width="2.8" stroke-linejoin="miter"/>
<circle cx="1661" cy="800.8" r="1" fill="#4a0e0a"/>
<circle cx="1667.43" cy="812.6" r="1" fill="#4a0e0a"/>
<circle cx="1654.57" cy="812.6" r="1" fill="#4a0e0a"/>
<path d="M1624 1003 L1630.13 1014.4 L1617.87 1014.4Z" fill="none" stroke="#c2352a" stroke-width="2.8" stroke-linejoin="miter"/>
<circle cx="1624" cy="1002.8" r="1" fill="#4a0e0a"/>
<circle cx="1630.43" cy="1014.6" r="1" fill="#4a0e0a"/>
<circle cx="1617.57" cy="1014.6" r="1" fill="#4a0e0a"/>
<path d="M1622 1022 L1628.13 1033.4 L1615.87 1033.4Z" fill="none" stroke="#c2352a" stroke-width="2.8" stroke-linejoin="miter"/>
<circle cx="1622" cy="1021.8" r="1" fill="#4a0e0a"/>
<circle cx="1628.43" cy="1033.6" r="1" fill="#4a0e0a"/>
<circle cx="1615.57" cy="1033.6" r="1" fill="#4a0e0a"/>
<path d="M1650.7 1022 L1656.83 1033.4 L1644.57 1033.4Z" fill="none" stroke="#c2352a" stroke-width="2.8" stroke-linejoin="miter"/>
<circle cx="1650.7" cy="1021.8" r="1" fill="#4a0e0a"/>
<circle cx="1657.13" cy="1033.6" r="1" fill="#4a0e0a"/>
<circle cx="1644.27" cy="1033.6" r="1" fill="#4a0e0a"/>
<path d="M1637 1058.5 L1643.13 1069.9 L1630.87 1069.9Z" fill="none" stroke="#c2352a" stroke-width="2.8" stroke-linejoin="miter"/>
<circle cx="1637" cy="1058.3" r="1" fill="#4a0e0a"/>
<circle cx="1643.43" cy="1070.1" r="1" fill="#4a0e0a"/>
<circle cx="1630.57" cy="1070.1" r="1" fill="#4a0e0a"/>
<path d="M1648.7 1073.7 L1654.83 1085.1 L1642.57 1085.1Z" fill="none" stroke="#c2352a" stroke-width="2.8" stroke-linejoin="miter"/>
<circle cx="1648.7" cy="1073.5" r="1" fill="#4a0e0a"/>
<circle cx="1655.13" cy="1085.3" r="1" fill="#4a0e0a"/>
<circle cx="1642.27" cy="1085.3" r="1" fill="#4a0e0a"/>
<path d="M1679.2 953 L1687.45 967 L1670.95 967Z" fill="#2f9b7a"/>
<text x="453.91" y="150" font-family='"Liberation Serif", serif' font-size="24.5" fill="#1e1710" textLength="13.66" lengthAdjust="spacingAndGlyphs">2</text>
<text x="441.94" y="259.5" font-family='"Liberation Serif", serif' font-size="24.5" fill="#1e1710" textLength="32.17" lengthAdjust="spacingAndGlyphs">1.6</text>
<text x="441.8" y="366" font-family='"Liberation Serif", serif' font-size="24.5" fill="#1e1710" textLength="32.81" lengthAdjust="spacingAndGlyphs">1.2</text>
<text x="439.81" y="479.5" font-family='"Liberation Serif", serif' font-size="24.5" fill="#1e1710" textLength="32.98" lengthAdjust="spacingAndGlyphs">0.8</text>
<text x="439.82" y="587.3" font-family='"Liberation Serif", serif' font-size="24.5" fill="#1e1710" textLength="32.44" lengthAdjust="spacingAndGlyphs">0.4</text>
<text x="478.29" y="619.2" font-family='"Liberation Serif", serif' font-size="24.5" fill="#1e1710" textLength="25.17" lengthAdjust="spacingAndGlyphs">15</text>
<text x="564.04" y="619.2" font-family='"Liberation Serif", serif' font-size="24.5" fill="#1e1710" textLength="24.09" lengthAdjust="spacingAndGlyphs">20</text>
<text x="653.54" y="619.2" font-family='"Liberation Serif", serif' font-size="24.5" fill="#1e1710" textLength="24.09" lengthAdjust="spacingAndGlyphs">25</text>
<text x="741.74" y="619.2" font-family='"Liberation Serif", serif' font-size="24.5" fill="#1e1710" textLength="24.09" lengthAdjust="spacingAndGlyphs">30</text>
<text x="831.14" y="619.2" font-family='"Liberation Serif", serif' font-size="24.5" fill="#1e1710" textLength="24.09" lengthAdjust="spacingAndGlyphs">35</text>
<text x="914.37" y="619.2" font-family='"Liberation Serif", serif' font-size="24.5" fill="#1e1710" textLength="23.33" lengthAdjust="spacingAndGlyphs">40</text>
<text x="602.34" y="650.6" font-family='"Liberation Serif", serif' font-size="25.5" fill="#1e1710" textLength="180.94" lengthAdjust="spacingAndGlyphs">Zr/Hf, в стекле</text>
<text x="345.44" y="129.4" font-family='"Liberation Serif", serif' font-size="36.3" fill="#1e1710" textLength="43.23" lengthAdjust="spacingAndGlyphs">(а)</text>
<text transform="translate(413.2 486.55) rotate(-90)" font-family='"Liberation Serif", serif' font-size="26.5" fill="#1e1710" textLength="95.68" lengthAdjust="spacingAndGlyphs">(La/Sm)</text>
<text transform="translate(428.3 390.92) rotate(-90)" font-family='"Liberation Serif", serif' font-size="22" fill="#1e1710" textLength="22.56" lengthAdjust="spacingAndGlyphs">cn</text>
<text transform="translate(413.8 368) rotate(-90)" font-family='"Liberation Serif", serif' font-size="26.5" fill="#1e1710">,</text>
<text transform="translate(413.8 350.48) rotate(-90)" font-family='"Liberation Serif", serif' font-size="26.5" fill="#1e1710" textLength="95.61" lengthAdjust="spacingAndGlyphs">в стекле</text>
<text x="564.85" y="53.5" font-family='"Liberation Serif", serif' font-size="15.8" font-weight="bold" fill="#1e1710" textLength="65.05" lengthAdjust="spacingAndGlyphs">45L099ad</text>
<text x="674.65" y="53.5" font-family='"Liberation Serif", serif' font-size="15.8" font-weight="bold" fill="#1e1710" textLength="64.15" lengthAdjust="spacingAndGlyphs">45L102ad</text>
<text x="782.05" y="53.5" font-family='"Liberation Serif", serif' font-size="15.8" font-weight="bold" fill="#1e1710" textLength="63.05" lengthAdjust="spacingAndGlyphs">45L102ag</text>
<text x="574.62" y="74.6" font-family='"Liberation Serif", serif' font-size="13.8" font-weight="bold" fill="#1e1710" textLength="116.26" lengthAdjust="spacingAndGlyphs">САХ, 20°- 21° с.ш.</text>
<text x="722.12" y="74.6" font-family='"Liberation Serif", serif' font-size="13.8" font-weight="bold" fill="#1e1710" textLength="117.27" lengthAdjust="spacingAndGlyphs">САХ, 16°- 17° с.ш.</text>
<text x="593.41" y="96" font-family='"Liberation Serif", serif' font-size="14" font-weight="bold" fill="#1e1710" textLength="210.17" lengthAdjust="spacingAndGlyphs">САХ, 16°- 17° с.ш., обр.20L794-2</text>
<text x="870.17" y="269.7" font-family='"Liberation Serif", serif' font-size="15" font-weight="bold" fill="#1e1710" textLength="63.06" lengthAdjust="spacingAndGlyphs">20L794-2</text>
<text x="1159.52" y="145.8" font-family='"Liberation Serif", serif' font-size="24.5" fill="#1e1710" textLength="45.46" lengthAdjust="spacingAndGlyphs">0.35</text>
<text x="1171.39" y="220.4" font-family='"Liberation Serif", serif' font-size="24.5" fill="#1e1710" textLength="33.61" lengthAdjust="spacingAndGlyphs">0.3</text>
<text x="1159.52" y="288.7" font-family='"Liberation Serif", serif' font-size="24.5" fill="#1e1710" textLength="45.46" lengthAdjust="spacingAndGlyphs">0.25</text>
<text x="1171.76" y="363.5" font-family='"Liberation Serif", serif' font-size="24.5" fill="#1e1710" textLength="35.15" lengthAdjust="spacingAndGlyphs">0.2</text>
<text x="1162.25" y="433.5" font-family='"Liberation Serif", serif' font-size="24.5" fill="#1e1710" textLength="44.01" lengthAdjust="spacingAndGlyphs">0.15</text>
<text x="1173.19" y="507" font-family='"Liberation Serif", serif' font-size="24.5" fill="#1e1710" textLength="33.94" lengthAdjust="spacingAndGlyphs">0.1</text>
<text x="1159.5" y="575.5" font-family='"Liberation Serif", serif' font-size="24.5" fill="#1e1710" textLength="46.8" lengthAdjust="spacingAndGlyphs">0.05</text>
<text x="1208.91" y="609.3" font-family='"Liberation Serif", serif' font-size="25" fill="#1e1710" textLength="26.07" lengthAdjust="spacingAndGlyphs">15</text>
<text x="1294.2" y="609.3" font-family='"Liberation Serif", serif' font-size="25" fill="#1e1710" textLength="24.95" lengthAdjust="spacingAndGlyphs">20</text>
<text x="1379" y="609.3" font-family='"Liberation Serif", serif' font-size="25" fill="#1e1710" textLength="24.95" lengthAdjust="spacingAndGlyphs">25</text>
<text x="1467.3" y="609.3" font-family='"Liberation Serif", serif' font-size="25" fill="#1e1710" textLength="24.95" lengthAdjust="spacingAndGlyphs">30</text>
<text x="1550.8" y="609.3" font-family='"Liberation Serif", serif' font-size="25" fill="#1e1710" textLength="24.95" lengthAdjust="spacingAndGlyphs">35</text>
<text x="1639.86" y="609.3" font-family='"Liberation Serif", serif' font-size="25" fill="#1e1710" textLength="24.17" lengthAdjust="spacingAndGlyphs">40</text>
<text x="1326.33" y="637.7" font-family='"Liberation Serif", serif' font-size="25.5" fill="#1e1710" textLength="182.35" lengthAdjust="spacingAndGlyphs">Zr/Hf, в стекле</text>
<text x="1054.73" y="130.9" font-family='"Liberation Serif", serif' font-size="36.3" fill="#1e1710" textLength="46.16" lengthAdjust="spacingAndGlyphs">(б)</text>
<text transform="translate(1137.8 477.22) rotate(-90)" font-family='"Liberation Serif", serif' font-size="27" fill="#1e1710" textLength="18.78" lengthAdjust="spacingAndGlyphs">K</text>
<text transform="translate(1153.3 456.98) rotate(-90)" font-family='"Liberation Serif", serif' font-size="20" fill="#1e1710" textLength="9.76" lengthAdjust="spacingAndGlyphs">2</text>
<text transform="translate(1137.8 446.63) rotate(-90)" font-family='"Liberation Serif", serif' font-size="26.5" fill="#1e1710" textLength="73.05" lengthAdjust="spacingAndGlyphs">O/TiO</text>
<text transform="translate(1153.3 372.11) rotate(-90)" font-family='"Liberation Serif", serif' font-size="20" fill="#1e1710" textLength="13.9" lengthAdjust="spacingAndGlyphs">2</text>
<text transform="translate(1139.5 360.55) rotate(-90)" font-family='"Liberation Serif", serif' font-size="25" fill="#1e1710">,</text>
<text transform="translate(1139 335.98) rotate(-90)" font-family='"Liberation Serif", serif' font-size="27" fill="#1e1710" textLength="95.71" lengthAdjust="spacingAndGlyphs">в стекле</text>
<text x="1296.25" y="51.6" font-family='"Liberation Serif", serif' font-size="15.5" font-weight="bold" fill="#1e1710" textLength="64.15" lengthAdjust="spacingAndGlyphs">45L099ad</text>
<text x="1405.65" y="50.8" font-family='"Liberation Serif", serif' font-size="15.5" font-weight="bold" fill="#1e1710" textLength="64.15" lengthAdjust="spacingAndGlyphs">45L102ad</text>
<text x="1512.55" y="51" font-family='"Liberation Serif", serif' font-size="15.5" font-weight="bold" fill="#1e1710" textLength="63.55" lengthAdjust="spacingAndGlyphs">45L102ag</text>
<text x="1299.72" y="72.6" font-family='"Liberation Serif", serif' font-size="14.4" font-weight="bold" fill="#1e1710" textLength="117.27" lengthAdjust="spacingAndGlyphs">САХ, 20°- 21° с.ш.</text>
<text x="1447.82" y="72.6" font-family='"Liberation Serif", serif' font-size="14.4" font-weight="bold" fill="#1e1710" textLength="117.27" lengthAdjust="spacingAndGlyphs">САХ, 16°- 17° с.ш.</text>
<text x="1324.35" y="93.6" font-family='"Liberation Serif", serif' font-size="15.9" font-weight="bold" fill="#1e1710" textLength="233.5" lengthAdjust="spacingAndGlyphs">САХ, 16°- 17° с.ш., обр.20L794-2</text>
<text x="1550.45" y="207.8" font-family='"Liberation Serif", serif' font-size="15" font-weight="bold" fill="#1e1710" textLength="65.1" lengthAdjust="spacingAndGlyphs">20L794-2</text>
<text x="455.37" y="840.7" font-family='"Liberation Serif", serif' font-size="25" fill="#1e1710" textLength="24.16" lengthAdjust="spacingAndGlyphs">10</text>
<text x="464.09" y="979.6" font-family='"Liberation Serif", serif' font-size="25" fill="#1e1710" textLength="15.12" lengthAdjust="spacingAndGlyphs">9</text>
<text x="465.28" y="1111.6" font-family='"Liberation Serif", serif' font-size="25" fill="#1e1710" textLength="12.05" lengthAdjust="spacingAndGlyphs">8</text>
<text x="465.04" y="1243" font-family='"Liberation Serif", serif' font-size="25" fill="#1e1710" textLength="12.98" lengthAdjust="spacingAndGlyphs">7</text>
<text x="486.22" y="1273.7" font-family='"Liberation Serif", serif' font-size="25" fill="#1e1710" textLength="27.19" lengthAdjust="spacingAndGlyphs">15</text>
<text x="562.56" y="1273.7" font-family='"Liberation Serif", serif' font-size="25" fill="#1e1710" textLength="26.02" lengthAdjust="spacingAndGlyphs">20</text>
<text x="646.96" y="1273.7" font-family='"Liberation Serif", serif' font-size="25" fill="#1e1710" textLength="26.02" lengthAdjust="spacingAndGlyphs">25</text>
<text x="725.56" y="1273.7" font-family='"Liberation Serif", serif' font-size="25" fill="#1e1710" textLength="26.02" lengthAdjust="spacingAndGlyphs">30</text>
<text x="804.86" y="1273.7" font-family='"Liberation Serif", serif' font-size="25" fill="#1e1710" textLength="26.02" lengthAdjust="spacingAndGlyphs">35</text>
<text x="887.85" y="1273.7" font-family='"Liberation Serif", serif' font-size="25" fill="#1e1710" textLength="25.21" lengthAdjust="spacingAndGlyphs">40</text>
<text x="599.73" y="1315.5" font-family='"Liberation Serif", serif' font-size="25.5" fill="#1e1710" textLength="182.25" lengthAdjust="spacingAndGlyphs">Zr/Hf, в стекле</text>
<text x="347.63" y="778" font-family='"Liberation Serif", serif' font-size="35.5" fill="#1e1710" textLength="44.76" lengthAdjust="spacingAndGlyphs">(в)</text>
<text transform="translate(437.7 1172.17) rotate(-90)" font-family='"Liberation Serif", serif' font-size="32.7" fill="#1e1710" textLength="307.7" lengthAdjust="spacingAndGlyphs">MgO, мас. % в стекле</text>
<text x="564.85" y="754.2" font-family='"Liberation Serif", serif' font-size="15.5" font-weight="bold" fill="#1e1710" textLength="65.05" lengthAdjust="spacingAndGlyphs">45L099ad</text>
<text x="664.65" y="754.2" font-family='"Liberation Serif", serif' font-size="15.5" font-weight="bold" fill="#1e1710" textLength="64.65" lengthAdjust="spacingAndGlyphs">45L102ad</text>
<text x="761.95" y="754.2" font-family='"Liberation Serif", serif' font-size="15.5" font-weight="bold" fill="#1e1710" textLength="64.05" lengthAdjust="spacingAndGlyphs">45L102ag</text>
<text x="574.11" y="776.6" font-family='"Liberation Serif", serif' font-size="14.1" font-weight="bold" fill="#1e1710" textLength="114.65" lengthAdjust="spacingAndGlyphs">САХ, 20°- 21° с.ш</text>
<text x="706.81" y="776.4" font-family='"Liberation Serif", serif' font-size="14.1" font-weight="bold" fill="#1e1710" textLength="117.77" lengthAdjust="spacingAndGlyphs">САХ, 16°- 17° с.ш.</text>
<text x="593.41" y="793.4" font-family='"Liberation Serif", serif' font-size="14.1" font-weight="bold" fill="#1e1710" textLength="209.87" lengthAdjust="spacingAndGlyphs">САХ, 16°- 17° с.ш., обр.20L794-2</text>
<text x="865.97" y="1114.6" font-family='"Liberation Serif", serif' font-size="15" font-weight="bold" fill="#1e1710" textLength="63.16" lengthAdjust="spacingAndGlyphs">20L794-2</text>
<text x="1174.05" y="791.1" font-family='"Liberation Serif", serif' font-size="26" fill="#1e1710" textLength="39.55" lengthAdjust="spacingAndGlyphs">250</text>
<text x="1175.57" y="884.3" font-family='"Liberation Serif", serif' font-size="26" fill="#1e1710" textLength="38.81" lengthAdjust="spacingAndGlyphs">200</text>
<text x="1175.69" y="980" font-family='"Liberation Serif", serif' font-size="26" fill="#1e1710" textLength="37.66" lengthAdjust="spacingAndGlyphs">150</text>
<text x="1175.93" y="1066.7" font-family='"Liberation Serif", serif' font-size="26" fill="#1e1710" textLength="38.85" lengthAdjust="spacingAndGlyphs">100</text>
<text x="1185.4" y="1165.3" font-family='"Liberation Serif", serif' font-size="26" fill="#1e1710" textLength="28.04" lengthAdjust="spacingAndGlyphs">50</text>
<text x="1198.67" y="1254.8" font-family='"Liberation Serif", serif' font-size="26" fill="#1e1710" textLength="13.86" lengthAdjust="spacingAndGlyphs">0</text>
<text x="1222.34" y="1282.6" font-family='"Liberation Serif", serif' font-size="25" fill="#1e1710" textLength="26.97" lengthAdjust="spacingAndGlyphs">15</text>
<text x="1318.37" y="1282.6" font-family='"Liberation Serif", serif' font-size="25" fill="#1e1710" textLength="25.81" lengthAdjust="spacingAndGlyphs">20</text>
<text x="1408.17" y="1282.6" font-family='"Liberation Serif", serif' font-size="25" fill="#1e1710" textLength="25.81" lengthAdjust="spacingAndGlyphs">25</text>
<text x="1505.57" y="1282.6" font-family='"Liberation Serif", serif' font-size="25" fill="#1e1710" textLength="25.81" lengthAdjust="spacingAndGlyphs">30</text>
<text x="1599.77" y="1282.6" font-family='"Liberation Serif", serif' font-size="25" fill="#1e1710" textLength="25.81" lengthAdjust="spacingAndGlyphs">35</text>
<text x="1693.55" y="1282.6" font-family='"Liberation Serif", serif' font-size="25" fill="#1e1710" textLength="25" lengthAdjust="spacingAndGlyphs">40</text>
<text x="1356.54" y="1314.6" font-family='"Liberation Serif", serif' font-size="25.5" fill="#1e1710" textLength="181.65" lengthAdjust="spacingAndGlyphs">Zr/Hf, в стекле</text>
<text x="1058.85" y="778.5" font-family='"Liberation Serif", serif' font-size="35.5" fill="#1e1710" textLength="41.72" lengthAdjust="spacingAndGlyphs">(г)</text>
<text transform="translate(1159.3 1113.67) rotate(-90)" font-family='"Liberation Serif", serif' font-size="29.6" fill="#1e1710" textLength="199.16" lengthAdjust="spacingAndGlyphs">CL, г/т, в стекле</text>
<text x="1320.65" y="689.7" font-family='"Liberation Serif", serif' font-size="14.5" font-weight="bold" fill="#1e1710" textLength="64.55" lengthAdjust="spacingAndGlyphs">45L099ad</text>
<text x="1429.95" y="689.7" font-family='"Liberation Serif", serif' font-size="14.5" font-weight="bold" fill="#1e1710" textLength="64.85" lengthAdjust="spacingAndGlyphs">45L102ad</text>
<text x="1551.65" y="689.7" font-family='"Liberation Serif", serif' font-size="14.5" font-weight="bold" fill="#1e1710" textLength="63.45" lengthAdjust="spacingAndGlyphs">45L102ag</text>
<text x="1320.16" y="712.8" font-family='"Liberation Serif", serif' font-size="16" font-weight="bold" fill="#1e1710" textLength="129.49" lengthAdjust="spacingAndGlyphs">САХ, 20°- 21° с.ш.</text>
<text x="1487.25" y="712.8" font-family='"Liberation Serif", serif' font-size="16" font-weight="bold" fill="#1e1710" textLength="129.99" lengthAdjust="spacingAndGlyphs">САХ, 16°- 17° с.ш.</text>
<text x="1348.65" y="738.9" font-family='"Liberation Serif", serif' font-size="16.1" font-weight="bold" fill="#1e1710" textLength="233.7" lengthAdjust="spacingAndGlyphs">САХ, 16°- 17° с.ш., обр.20L794-2</text>
<text x="1648.06" y="988.4" font-family='"Liberation Serif", serif' font-size="15" font-weight="bold" fill="#1e1710" textLength="64.08" lengthAdjust="spacingAndGlyphs">20L794-2</text>
</svg></body></html>
